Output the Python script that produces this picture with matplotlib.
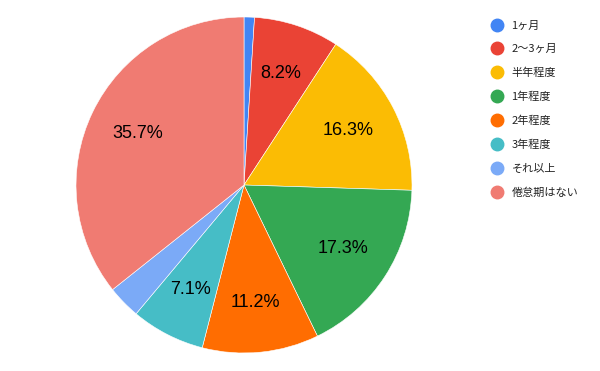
import matplotlib.pyplot as plt
from matplotlib.lines import Line2D

plt.rcParams['font.family'] = ['Liberation Sans', 'Noto Sans CJK JP', 'DejaVu Sans']

# データ
categories = ['1ヶ月', '2〜3ヶ月', '半年程度', '1年程度', '2年程度', '3年程度', 'それ以上', '倦怠期はない']
values = [1.0, 8.2, 16.3, 17.3, 11.2, 7.1, 3.2, 35.7]
colors = ['#4285F4', '#EA4335', '#FBBC04', '#34A853', '#FF6D01', '#46BDC6', '#7BAAF7', '#F07B72']

fig = plt.figure(figsize=(6, 3.71), dpi=100)
W, H = 600, 371
cx, cy, r = 244, 185, 168
ax = fig.add_axes([(cx - r) / W, (H - cy - r) / H, 2 * r / W, 2 * r / H])

def fmt(p):
    return f'{p:.1f}%' if p >= 5 else ''

wedges, texts, autotexts = ax.pie(
    values, colors=colors, startangle=90, counterclock=False,
    autopct=fmt, pctdistance=0.7, radius=1,
    wedgeprops=dict(edgecolor='white', linewidth=0.4),
    textprops=dict(fontsize=13, color='#000000'))
ax.set_xlim(-1, 1)
ax.set_ylim(-1, 1)
ax.set_aspect('equal')
ax.axis('off')

handles = [Line2D([], [], marker='o', linestyle='', markersize=9,
                  markerfacecolor=c, markeredgecolor=c) for c in colors]
fig.legend(handles, categories, loc='upper left',
           bbox_to_anchor=(486 / W, (H - 15) / H), frameon=False,
           prop={'family': ['Noto Sans CJK JP', 'DejaVu Sans'], 'size': 8},
           labelspacing=1.22, handlelength=1.0, handletextpad=0.8,
           borderpad=0, labelcolor='#222222')

fig.savefig('out.png', dpi=100)
